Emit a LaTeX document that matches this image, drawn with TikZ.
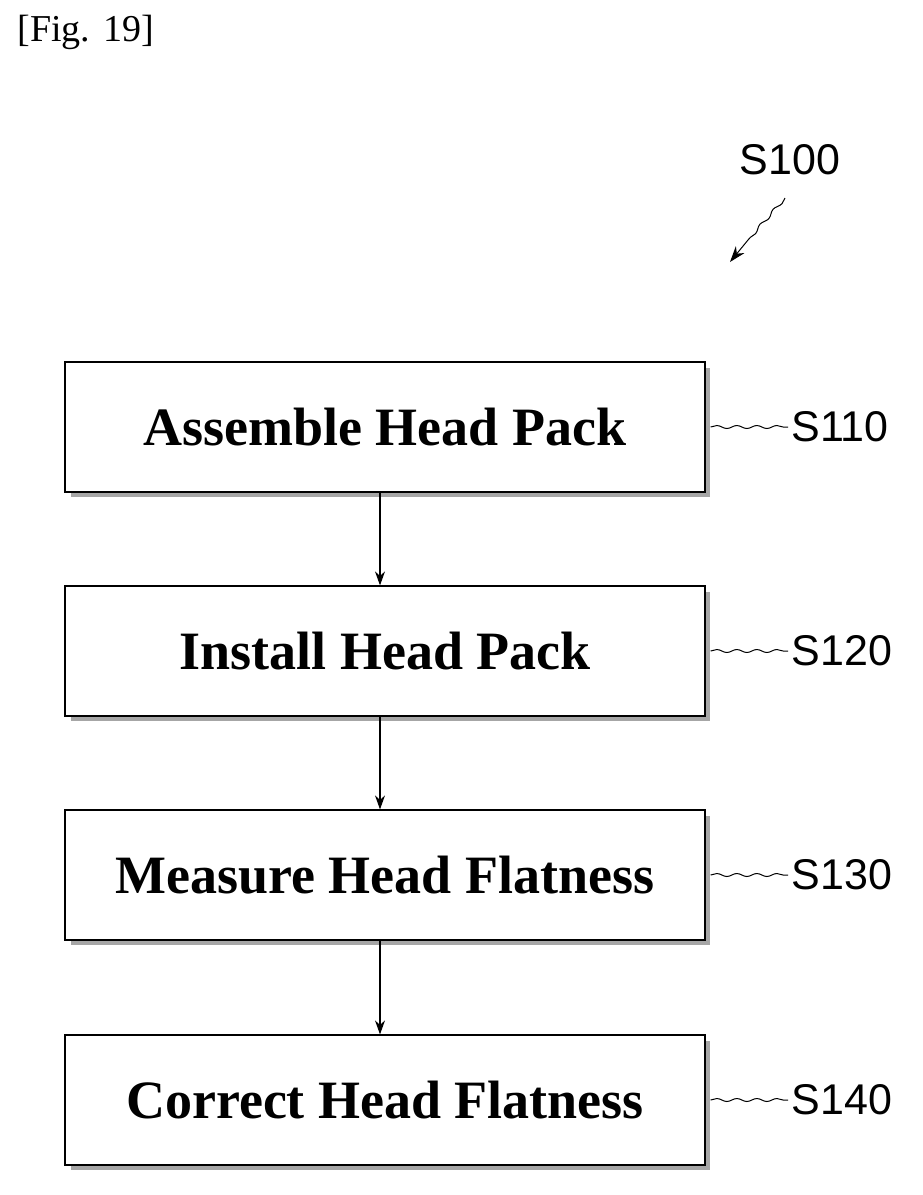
\documentclass[tikz,border=0pt]{standalone}
\usepackage{fontspec}
\setmainfont{Liberation Serif}
\newfontfamily\lblfont{Liberation Sans}
\usetikzlibrary{arrows.meta,decorations.pathmorphing}
\begin{document}
\begin{tikzpicture}[x=1pt,y=-1pt,
  stepbox/.style={draw,line width=1.2pt,minimum width=640pt,minimum height=130pt,inner sep=0pt,font=\fontsize{54}{58}\selectfont\bfseries},
  lbl/.style={font=\lblfont\fontsize{43}{47}\selectfont,anchor=west},
  flow/.style={-{Stealth[length=14pt,width=10pt]},line width=1.2pt},
  lead/.style={line width=1pt,decorate,decoration={snake,amplitude=1.5pt,segment length=20pt}}]
\useasboundingbox (0,0) rectangle (922,1195);
\node[anchor=north west,font=\fontsize{38}{42}\selectfont] (fig) at (14,12) {[Fig. 19]};
\foreach \n/\y/\t/\s in {a/427/Assemble Head Pack/S110,b/651/Install Head Pack/S120,c/875/Measure Head Flatness/S130,d/1100/Correct Head Flatness/S140}{
  \fill[gray!70] (71,\y-59) rectangle (710,\y+70);
  \node[stepbox,fill=white] (\n) at (385,\y) {\t};
  \node[lbl] (\n l) at (788,\y) {\s};
  \draw[lead] (\n.east)++(5,0) coordinate (\n c) -- (\n l.west);
}
\draw[flow] (a.south -| 380,0) -- (b.north -| 380,0);
\draw[flow] (b.south -| 380,0) -- (c.north -| 380,0);
\draw[flow] (c.south -| 380,0) -- (d.north -| 380,0);
\node[lbl,anchor=center] (top) at (790,160) {S100};
\coordinate (tip) at (730,262);
\draw[lead] (785,198) -- (748,240);
\draw[-{Stealth[length=16pt,width=11pt]},line width=1pt] (748,240) -- (tip);
\end{tikzpicture}
\end{document}
